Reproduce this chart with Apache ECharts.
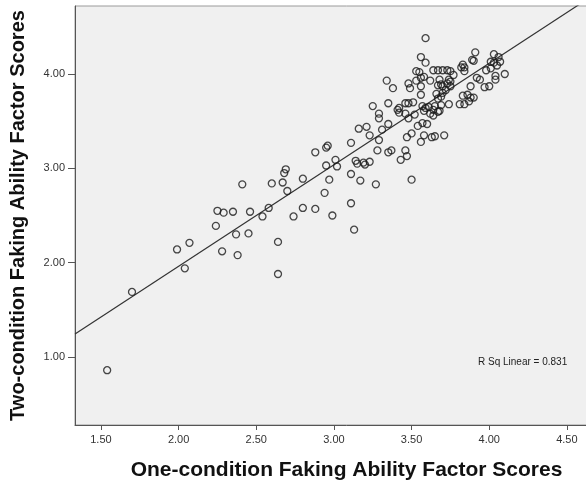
<!DOCTYPE html>
<html>
<head>
<meta charset="utf-8">
<script src="https://cdn.jsdelivr.net/npm/echarts@6/dist/echarts.min.js"></script>
<style>
html,body{margin:0;padding:0;background:#fff;overflow:hidden;width:586px;height:486px;}
#chart{width:618px;height:486px;}
</style>
</head>
<body>
<div id="chart"></div>
<script>
// One-condition (x) and Two-condition (y) faking ability factor scores
const oneCondition = [
1.54,1.70,1.99,2.07,2.04,2.24,2.25,2.29,2.35,2.46,2.41,2.37,2.45,2.28,2.38,
2.54,2.58,2.64,2.64,2.60,2.67,2.69,2.68,2.70,2.74,2.80,2.80,2.88,2.88,2.94,
2.95,2.95,2.96,2.97,2.99,3.01,3.02,3.11,3.13,3.11,3.11,3.14,3.15,3.19,3.20,
3.23,3.17,3.27,3.16,3.21,3.23,3.25,3.29,3.29,3.29,3.31,3.28,3.35,3.37,3.35,
3.35,3.34,3.38,3.43,3.46,3.47,3.50,3.41,3.42,3.46,3.46,3.48,3.51,3.42,3.48,
3.52,3.54,3.57,3.60,3.50,3.47,3.58,3.56,3.63,3.65,3.71,3.59,3.56,3.59,3.53,
3.55,3.56,3.48,3.49,3.53,3.56,3.56,3.62,3.64,3.67,3.70,3.73,3.75,3.68,3.74,
3.75,3.69,3.70,3.67,3.72,3.75,3.66,3.70,3.67,3.69,3.58,3.77,3.84,3.57,3.59,
3.61,3.64,3.65,3.58,3.62,3.64,3.67,3.69,3.68,3.74,3.81,3.84,3.87,3.83,3.86,
3.88,3.90,3.91,4.03,4.06,3.89,3.90,3.83,3.82,3.84,4.01,4.03,4.07,3.98,4.01,
4.05,4.04,4.04,4.10,3.92,3.94,3.97,4.00,3.88,3.73
];
const twoCondition = [
0.86,1.69,2.14,2.21,1.94,2.39,2.55,2.53,2.54,2.54,2.83,2.30,2.31,2.12,2.08,
2.49,2.58,2.22,1.88,2.84,2.85,2.99,2.95,2.76,2.49,2.58,2.89,2.57,3.17,2.74,
3.03,3.22,3.24,2.88,2.50,3.09,3.02,2.63,2.35,2.94,3.27,3.08,3.05,3.06,3.04,
3.07,2.87,2.83,3.42,3.44,3.35,3.66,3.58,3.53,3.30,3.41,3.19,3.17,3.19,3.47,
3.69,3.93,3.85,3.09,3.19,3.13,2.88,3.62,3.59,3.58,3.69,3.69,3.70,3.64,3.53,
3.57,3.45,3.48,3.47,3.37,3.33,3.35,3.28,3.33,3.34,3.35,4.38,4.18,4.12,4.03,
4.02,3.96,3.90,3.85,3.93,3.87,3.78,3.93,4.04,4.04,4.04,4.04,4.03,3.94,3.94,
3.92,3.89,3.87,3.88,3.83,3.87,3.79,3.80,3.74,3.76,3.97,3.99,4.03,3.66,3.64,
3.65,3.62,3.66,3.61,3.58,3.56,3.60,3.67,3.61,3.68,3.68,3.68,3.71,3.77,3.78,
3.75,3.75,4.23,4.21,4.18,4.15,4.14,4.10,4.07,4.07,4.13,4.12,4.13,4.04,4.06,
4.09,3.98,3.94,4.00,3.96,3.94,3.86,3.87,3.87,3.90
];
const xTicks = [1.5, 2.0, 2.5, 3.0, 3.5, 4.0, 4.5];
const yTicks = [1.0, 2.0, 3.0, 4.0];
const xRange = [1.333, 4.829];
const yRange = [0.279, 4.721];
// Linear fit
const fitSlope = 1.076;
const fitIntercept = -0.190;
const rSqText = 'R Sq Linear = 0.831';
const xTitle = 'One-condition Faking Ability Factor Scores';
const yTitle = 'Two-condition Faking Ability Factor Scores';

const points = oneCondition.map((x, i) => [x, twoCondition[i]]);
const fitLine = [
  [xRange[0], fitIntercept + fitSlope * xRange[0]],
  [xRange[1], fitIntercept + fitSlope * xRange[1]]
];
const FONT = 'Arial, "Liberation Sans", sans-serif';

const chart = echarts.init(document.getElementById('chart'), null, {renderer: 'canvas'});
chart.setOption({
  animation: false,
  backgroundColor: '#ffffff',
  grid: {
    left: 75, top: 6, right: 0, bottom: 61,
    show: true, backgroundColor: '#f0f0f0', borderColor: '#9a9a9a', borderWidth: 1
  },
  xAxis: {
    type: 'value', min: xRange[0], max: xRange[1],
    axisLine: {show: true, onZero: false, lineStyle: {color: '#555', width: 1}},
    axisTick: {show: true, customValues: xTicks, length: 5, lineStyle: {color: '#555', width: 1}},
    axisLabel: {customValues: xTicks, formatter: v => v.toFixed(2), fontSize: 11, color: '#333', fontFamily: FONT, margin: 9},
    splitLine: {show: false},
    name: xTitle, nameLocation: 'middle', nameGap: 35,
    nameTextStyle: {fontSize: 21, fontWeight: 'bold', color: '#111', fontFamily: FONT}
  },
  yAxis: {
    type: 'value', min: yRange[0], max: yRange[1],
    axisLine: {show: true, onZero: false, lineStyle: {color: '#555', width: 1}},
    axisTick: {show: true, customValues: yTicks, length: 7, lineStyle: {color: '#555', width: 1}},
    axisLabel: {customValues: yTicks, formatter: v => v.toFixed(2), fontSize: 11, color: '#333', fontFamily: FONT, margin: 10},
    splitLine: {show: false},
    name: yTitle, nameLocation: 'middle', nameGap: 47,
    nameTextStyle: {fontSize: 20, fontWeight: 'bold', color: '#111', fontFamily: FONT}
  },
  graphic: [{
    type: 'text', left: 478, top: 357,
    style: {text: rSqText, font: '10px ' + FONT, fill: '#222'}
  }],
  series: [
    {
      type: 'line', data: fitLine, symbol: 'none', clip: true, silent: true,
      lineStyle: {color: '#333', width: 1.2}, z: 2
    },
    {
      type: 'scatter', data: points, symbol: 'circle', symbolSize: 7, z: 3,
      itemStyle: {color: 'rgba(0,0,0,0)', borderColor: '#1a1a1a', borderWidth: 1.3}
    }
  ]
});
</script>
</body>
</html>
